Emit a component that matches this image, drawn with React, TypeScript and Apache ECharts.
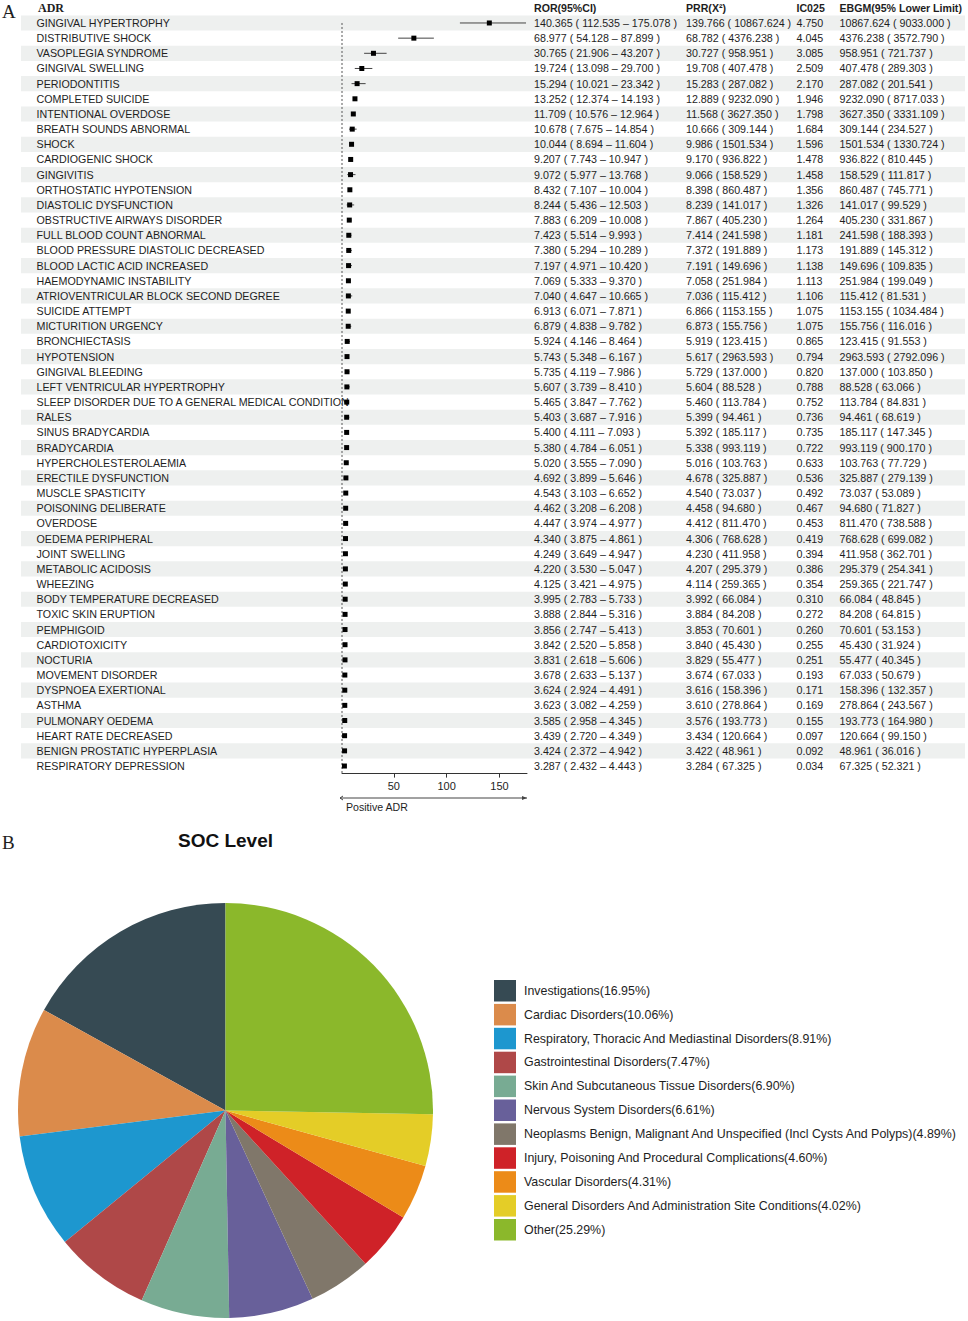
import React, { useEffect, useRef } from "react";
import * as echarts from "echarts";

const adrNames = [
  "GINGIVAL HYPERTROPHY", "DISTRIBUTIVE SHOCK", "VASOPLEGIA SYNDROME", "GINGIVAL SWELLING", "PERIODONTITIS",
  "COMPLETED SUICIDE", "INTENTIONAL OVERDOSE", "BREATH SOUNDS ABNORMAL", "SHOCK", "CARDIOGENIC SHOCK",
  "GINGIVITIS", "ORTHOSTATIC HYPOTENSION", "DIASTOLIC DYSFUNCTION", "OBSTRUCTIVE AIRWAYS DISORDER", "FULL BLOOD COUNT ABNORMAL",
  "BLOOD PRESSURE DIASTOLIC DECREASED", "BLOOD LACTIC ACID INCREASED", "HAEMODYNAMIC INSTABILITY", "ATRIOVENTRICULAR BLOCK SECOND DEGREE", "SUICIDE ATTEMPT",
  "MICTURITION URGENCY", "BRONCHIECTASIS", "HYPOTENSION", "GINGIVAL BLEEDING", "LEFT VENTRICULAR HYPERTROPHY",
  "SLEEP DISORDER DUE TO A GENERAL MEDICAL CONDITION", "RALES", "SINUS BRADYCARDIA", "BRADYCARDIA", "HYPERCHOLESTEROLAEMIA",
  "ERECTILE DYSFUNCTION", "MUSCLE SPASTICITY", "POISONING DELIBERATE", "OVERDOSE", "OEDEMA PERIPHERAL",
  "JOINT SWELLING", "METABOLIC ACIDOSIS", "WHEEZING", "BODY TEMPERATURE DECREASED", "TOXIC SKIN ERUPTION",
  "PEMPHIGOID", "CARDIOTOXICITY", "NOCTURIA", "MOVEMENT DISORDER", "DYSPNOEA EXERTIONAL",
  "ASTHMA", "PULMONARY OEDEMA", "HEART RATE DECREASED", "BENIGN PROSTATIC HYPERPLASIA", "RESPIRATORY DEPRESSION",
];

const ror = [
  140.365, 68.977, 30.765, 19.724, 15.294, 13.252, 11.709, 10.678, 10.044, 9.207,
  9.072, 8.432, 8.244, 7.883, 7.423, 7.38, 7.197, 7.069, 7.04, 6.913,
  6.879, 5.924, 5.743, 5.735, 5.607, 5.465, 5.403, 5.4, 5.38, 5.02,
  4.692, 4.543, 4.462, 4.447, 4.34, 4.249, 4.22, 4.125, 3.995, 3.888,
  3.856, 3.842, 3.831, 3.678, 3.624, 3.623, 3.585, 3.439, 3.424, 3.287,
];
const rorLower = [
  112.535, 54.128, 21.906, 13.098, 10.021, 12.374, 10.576, 7.675, 8.694, 7.743,
  5.977, 7.107, 5.436, 6.209, 5.514, 5.294, 4.971, 5.333, 4.647, 6.071,
  4.838, 4.146, 5.348, 4.119, 3.739, 3.847, 3.687, 4.111, 4.784, 3.555,
  3.899, 3.103, 3.208, 3.974, 3.875, 3.649, 3.53, 3.421, 2.783, 2.844,
  2.747, 2.52, 2.618, 2.633, 2.924, 3.082, 2.958, 2.72, 2.372, 2.432,
];
const rorUpper = [
  175.078, 87.899, 43.207, 29.7, 23.342, 14.193, 12.964, 14.854, 11.604, 10.947,
  13.768, 10.004, 12.503, 10.008, 9.993, 10.289, 10.42, 9.37, 10.665, 7.871,
  9.782, 8.464, 6.167, 7.986, 8.41, 7.762, 7.916, 7.093, 6.051, 7.09,
  5.646, 6.652, 6.208, 4.977, 4.861, 4.947, 5.047, 4.975, 5.733, 5.316,
  5.413, 5.858, 5.606, 5.137, 4.491, 4.259, 4.345, 4.349, 4.942, 4.443,
];
const prr = [
  139.766, 68.782, 30.727, 19.708, 15.283, 12.889, 11.568, 10.666, 9.986, 9.17,
  9.066, 8.398, 8.239, 7.867, 7.414, 7.372, 7.191, 7.058, 7.036, 6.866,
  6.873, 5.919, 5.617, 5.729, 5.604, 5.46, 5.399, 5.392, 5.338, 5.016,
  4.678, 4.54, 4.458, 4.412, 4.306, 4.23, 4.207, 4.114, 3.992, 3.884,
  3.853, 3.84, 3.829, 3.674, 3.616, 3.61, 3.576, 3.434, 3.422, 3.284,
];
const prrChi2 = [
  10867.624, 4376.238, 958.951, 407.478, 287.082, 9232.09, 3627.35, 309.144, 1501.534, 936.822,
  158.529, 860.487, 141.017, 405.23, 241.598, 191.889, 149.696, 251.984, 115.412, 1153.155,
  155.756, 123.415, 2963.593, 137.0, 88.528, 113.784, 94.461, 185.117, 993.119, 103.763,
  325.887, 73.037, 94.68, 811.47, 768.628, 411.958, 295.379, 259.365, 66.084, 84.208,
  70.601, 45.43, 55.477, 67.033, 158.396, 278.864, 193.773, 120.664, 48.961, 67.325,
];
const ic025 = [
  4.75, 4.045, 3.085, 2.509, 2.17, 1.946, 1.798, 1.684, 1.596, 1.478,
  1.458, 1.356, 1.326, 1.264, 1.181, 1.173, 1.138, 1.113, 1.106, 1.075,
  1.075, 0.865, 0.794, 0.82, 0.788, 0.752, 0.736, 0.735, 0.722, 0.633,
  0.536, 0.492, 0.467, 0.453, 0.419, 0.394, 0.386, 0.354, 0.31, 0.272,
  0.26, 0.255, 0.251, 0.193, 0.171, 0.169, 0.155, 0.097, 0.092, 0.034,
];
const ebgm = [
  10867.624, 4376.238, 958.951, 407.478, 287.082, 9232.09, 3627.35, 309.144, 1501.534, 936.822,
  158.529, 860.487, 141.017, 405.23, 241.598, 191.889, 149.696, 251.984, 115.412, 1153.155,
  155.756, 123.415, 2963.593, 137.0, 88.528, 113.784, 94.461, 185.117, 993.119, 103.763,
  325.887, 73.037, 94.68, 811.47, 768.628, 411.958, 295.379, 259.365, 66.084, 84.208,
  70.601, 45.43, 55.477, 67.033, 158.396, 278.864, 193.773, 120.664, 48.961, 67.325,
];
const ebgmLower = [
  9033.0, 3572.79, 721.737, 289.303, 201.541, 8717.033, 3331.109, 234.527, 1330.724, 810.445,
  111.817, 745.771, 99.529, 331.867, 188.393, 145.312, 109.835, 199.049, 81.531, 1034.484,
  116.016, 91.553, 2792.096, 103.85, 63.066, 84.831, 68.619, 147.345, 900.17, 77.729,
  279.139, 53.089, 71.827, 738.588, 699.082, 362.701, 254.341, 221.747, 48.845, 64.815,
  53.153, 31.924, 40.345, 50.679, 132.357, 243.567, 164.98, 99.15, 36.016, 52.321,
];

const columnHeaders = ["ADR", "ROR(95%CI)", "PRR(X²)", "IC025", "EBGM(95% Lower Limit)"];
const xTicks = [50, 100, 150];

const socNames = [
  "Investigations", "Cardiac Disorders", "Respiratory, Thoracic And Mediastinal Disorders",
  "Gastrointestinal Disorders", "Skin And Subcutaneous Tissue Disorders", "Nervous System Disorders",
  "Neoplasms Benign, Malignant And Unspecified (Incl Cysts And Polyps)",
  "Injury, Poisoning And Procedural Complications", "Vascular Disorders",
  "General Disorders And Administration Site Conditions", "Other",
];
const socPct = [16.95, 10.06, 8.91, 7.47, 6.9, 6.61, 4.89, 4.6, 4.31, 4.02, 25.29];
const socColors = [
  "#364a53", "#db8b4b", "#1d97cf", "#af4848", "#78ab93", "#68609a",
  "#80776a", "#cf2228", "#ec8b18", "#e4cd27", "#8bb82b",
];

const SANS = "'Liberation Sans', Arial, sans-serif";
const SERIF = "'Liberation Serif', 'Times New Roman', serif";
const TXT = "#1e1e1e";
const STRIPE = "#eef0ef";

const colX = { name: 36.5, ror: 534, prr: 686, ic: 796.5, ebgm: 839.5 };
const f3 = (v: number) => v.toFixed(3);

export default function App() {
  const ref = useRef<HTMLDivElement>(null);
  useEffect(() => {
    document.body.style.margin = "0";
    if (!ref.current) return;
    const chart = echarts.init(ref.current, null, { renderer: "svg" });

    const gridTop = 15.4;
    const gridH = 758.2;

    const option: any = {
      animation: false,
      textStyle: { fontFamily: SANS },
      grid: [
        { left: 342, width: 185, top: gridTop, height: gridH },
        { left: 21, width: 944, top: gridTop, height: gridH },
      ],
      xAxis: [
        {
          gridIndex: 0, type: "value", min: 1, max: 176,
          axisLine: { show: true, lineStyle: { color: "#333", width: 1 } },
          axisTick: { show: true, customValues: xTicks, length: 4, lineStyle: { color: "#333" } },
          axisLabel: { customValues: xTicks, fontSize: 11, color: TXT, margin: 7, fontFamily: SANS },
          splitLine: { show: false },
        },
        { gridIndex: 1, type: "value", min: 0, max: 1, show: false },
      ],
      yAxis: [
        { gridIndex: 0, type: "category", data: adrNames, inverse: true, show: false },
        { gridIndex: 1, type: "category", data: adrNames, inverse: true, show: false },
      ],
      legend: {
        orient: "vertical", left: 494, top: 980, padding: 0, itemWidth: 22, itemHeight: 21.5, itemGap: 2.4,
        icon: "rect", selectedMode: false,
        data: socNames,
        formatter: (name: string) => {
          const i = socNames.indexOf(name);
          return `${name}(${socPct[i].toFixed(2)}%)`;
        },
        textStyle: { fontSize: 12.4, color: TXT, fontFamily: SANS, padding: [0, 0, 0, 3] },
      },
      graphic: [
        { type: "text", x: 2, y: 11, style: { text: "A", font: `19px ${SERIF}`, fill: TXT, verticalAlign: "middle" } },
        { type: "text", x: 38, y: 8, style: { text: columnHeaders[0], font: `bold 12px ${SERIF}`, fill: TXT, verticalAlign: "middle" } },
        { type: "text", x: colX.ror, y: 8, style: { text: columnHeaders[1], font: `bold 10.6px ${SANS}`, fill: TXT, verticalAlign: "middle" } },
        { type: "text", x: colX.prr, y: 8, style: { text: columnHeaders[2], font: `bold 10.6px ${SANS}`, fill: TXT, verticalAlign: "middle" } },
        { type: "text", x: colX.ic, y: 8, style: { text: columnHeaders[3], font: `bold 10.6px ${SANS}`, fill: TXT, verticalAlign: "middle" } },
        { type: "text", x: colX.ebgm, y: 8, style: { text: columnHeaders[4], font: `bold 10.6px ${SANS}`, fill: TXT, verticalAlign: "middle" } },
        { type: "line", shape: { x1: 340, y1: 798, x2: 527, y2: 798 }, style: { stroke: "#444", lineWidth: 1 } },
        { type: "polyline", shape: { points: [[343, 796], [340, 798], [343, 800]] }, style: { stroke: "#444", lineWidth: 1, fill: null } },
        { type: "polygon", shape: { points: [[522, 796], [527, 798], [522, 800]] }, style: { fill: "#444" } },
        { type: "text", x: 346, y: 806.5, style: { text: "Positive ADR", font: `10.6px ${SANS}`, fill: TXT, verticalAlign: "middle" } },
        { type: "text", x: 2, y: 842, style: { text: "B", font: `19px ${SERIF}`, fill: TXT, verticalAlign: "middle" } },
        { type: "text", x: 225.5, y: 840, style: { text: "SOC Level", font: `bold 19px ${SANS}`, fill: "#111", align: "center", verticalAlign: "middle" } },
      ],
      series: [
        {
          type: "custom",
          xAxisIndex: 1, yAxisIndex: 1, z: 1, silent: true,
          data: adrNames.map((_, i) => [0, i]),
          encode: { x: 0, y: 1 },
          renderItem: (params: any, api: any) => {
            const i = api.value(1);
            const c = api.coord([0, i]);
            const c1 = api.coord([1, i]);
            const bh = api.size([0, 1])[1];
            const children: any[] = [];
            if (i % 2 === 0) {
              children.push({ type: "rect", shape: { x: c[0], y: c[1] - bh / 2, width: c1[0] - c[0], height: bh }, style: { fill: STRIPE } });
            }
            const mk = (x: number, text: string) => ({
              type: "text", x, y: c[1],
              style: { text, font: `10.7px ${SANS}`, fill: TXT, verticalAlign: "middle", align: "left" },
            });
            children.push(mk(colX.name, adrNames[i]));
            children.push(mk(colX.ror, `${f3(ror[i])} ( ${f3(rorLower[i])} – ${f3(rorUpper[i])} )`));
            children.push(mk(colX.prr, `${f3(prr[i])} ( ${f3(prrChi2[i])} )`));
            children.push(mk(colX.ic, f3(ic025[i])));
            children.push(mk(colX.ebgm, `${f3(ebgm[i])} ( ${f3(ebgmLower[i])} )`));
            return { type: "group", children };
          },
        },
        {
          type: "custom",
          xAxisIndex: 0, yAxisIndex: 0, z: 3, silent: true, clip: false,
          data: adrNames.map((_, i) => [ror[i], rorLower[i], rorUpper[i], i]),
          encode: { x: [0, 1, 2], y: 3 },
          renderItem: (params: any, api: any) => {
            const i = api.value(3);
            const pc = api.coord([api.value(0), i]);
            const p0 = api.coord([api.value(1), i]);
            const p1 = api.coord([api.value(2), i]);
            const bh = api.size([0, 1])[1];
            const children: any[] = [];
            if (i === 0) {
              const top = api.coord([1, 0]);
              const bot = api.coord([1, adrNames.length - 1]);
              children.push({
                type: "line", shape: { x1: top[0], y1: top[1], x2: bot[0], y2: bot[1] + bh / 2 },
                style: { stroke: "#555", lineWidth: 1, lineDash: [2, 2] },
              });
            }
            children.push({ type: "line", shape: { x1: p0[0], y1: p0[1], x2: p1[0], y2: p1[1] }, style: { stroke: "#444", lineWidth: 1 } });
            children.push({ type: "rect", shape: { x: pc[0] - 2.5, y: pc[1] - 2.5, width: 5, height: 5 }, style: { fill: "#000" } });
            return { type: "group", children };
          },
        },
        {
          type: "pie",
          center: [225.5, 1110.5], radius: 207.5,
          startAngle: 90, clockwise: false, silent: true,
          label: { show: false }, labelLine: { show: false },
          itemStyle: { borderWidth: 0 },
          emphasis: { disabled: true },
          data: socNames.map((n, i) => ({ name: n, value: socPct[i], itemStyle: { color: socColors[i] } })),
        },
      ],
    };
    chart.setOption(option);
    return () => chart.dispose();
  }, []);
  return <div ref={ref} style={{ width: 968, height: 1321, background: "#fff" }} />;
}
